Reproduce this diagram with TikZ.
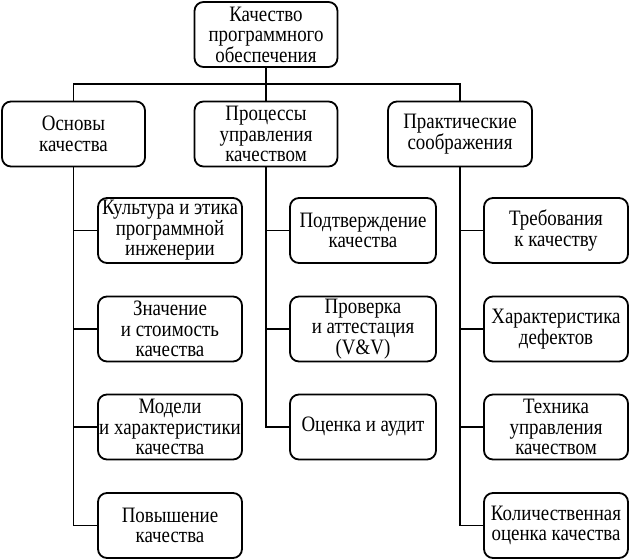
\documentclass[tikz,border=0pt]{standalone}
\usepackage{fontspec}
\setmainfont[FakeStretch=0.86]{Liberation Serif}
\begin{document}
\begin{tikzpicture}[x=1pt,y=-1pt,
  box/.style={draw, line width=1.8pt, rounded corners=9pt, minimum width=#1, minimum height=65pt, align=center, inner sep=0pt, font=\fontsize{22}{20.5}\selectfont},
  box/.default=143pt,
  conn/.style={line width=1.4pt}]
\useasboundingbox (0,0) rectangle (630,559);
\node[box] (top) at (266,34.5) {Качество\\программного\\обеспечения};
\node[box] (l1) at (73.5,134) {Основы\\качества};
\node[box] (l2) at (266,134) {Процессы\\управления\\качеством};
\node[box=144pt] (l3) at (460,134) {Практические\\соображения};
%
\node[box=144pt] (a1) at (170,230.5) {Культура и этика\\программной\\инженерии};
\node[box=144pt] (a2) at (170,329) {Значение\\и стоимость\\качества};
\node[box=144pt] (a3) at (170,427) {Модели\\и характеристики\\качества};
\node[box=144pt] (a4) at (170,525.5) {Повышение\\качества};
%
\node[box=146pt] (b1) at (363,230.5) {Подтверждение\\качества};
\node[box=146pt] (b2) at (363,329) {Проверка\\и аттестация\\(V\&V)};
\node[box=146pt] (b3) at (363,427) {Оценка и аудит};
%
\node[box=144pt] (c1) at (556,230.5) {Требования\\к качеству};
\node[box=144pt] (c2) at (556,329) {Характеристика\\дефектов};
\node[box=144pt] (c3) at (556,427) {Техника\\управления\\качеством};
\node[box=144pt] (c4) at (556,525.5) {Количественная\\оценка качества};
%
\coordinate (bus) at (266,84);
\draw[conn] (top.south) -- (bus);
\draw[conn] (l1.north) |- (bus) -| (l3.north);
\draw[conn] (bus) -- (l2.north);
%
\draw[conn] (l1.south) |- (a4.west);
\draw[conn] (l1.south |- a1.west) -- (a1.west);
\draw[conn] (l1.south |- a2.west) -- (a2.west);
\draw[conn] (l1.south |- a3.west) -- (a3.west);
%
\draw[conn] (l2.south) |- (b3.west);
\draw[conn] (l2.south |- b1.west) -- (b1.west);
\draw[conn] (l2.south |- b2.west) -- (b2.west);
%
\draw[conn] (l3.south) |- (c4.west);
\draw[conn] (l3.south |- c1.west) -- (c1.west);
\draw[conn] (l3.south |- c2.west) -- (c2.west);
\draw[conn] (l3.south |- c3.west) -- (c3.west);
\end{tikzpicture}
\end{document}
